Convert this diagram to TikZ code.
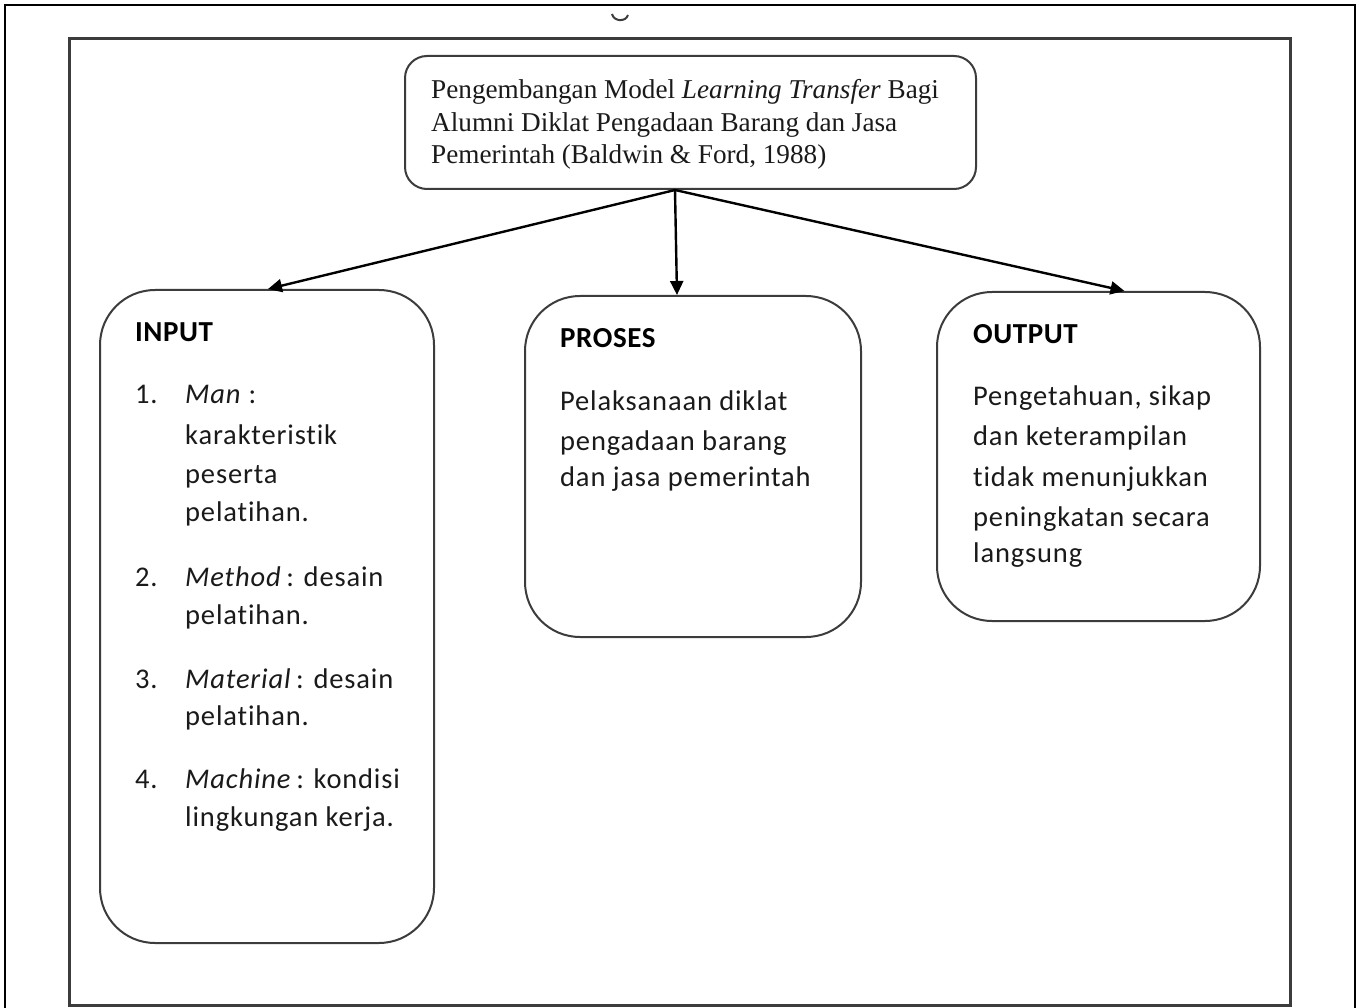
\documentclass[tikz,border=0pt]{standalone}
\usepackage{fontspec}
\setmainfont{Liberation Serif}
\newfontfamily\calib[Ligatures=NoCommon,LetterSpace=3]{Carlito}
\newfontfamily\calibhead[Ligatures=NoCommon,LetterSpace=2]{Carlito}
\usetikzlibrary{arrows.meta}
\definecolor{boxline}{HTML}{3C3C3C}
\definecolor{txt}{HTML}{1A1A1A}
\begin{document}
\begin{tikzpicture}[x=1pt,y=-1pt,
  frameline/.style={draw=black,line width=1.5pt},
  panel/.style={draw=boxline,line width=3pt},
  card/.style={draw=boxline,line width=2pt,rounded corners=55pt,inner sep=0pt},
  titlecard/.style={draw=boxline,line width=2pt,rounded corners=22pt,inner sep=0pt},
  link/.style={draw=black,line width=2.4pt,-{Triangle[length=14pt,width=13pt]}},
  serif/.style={anchor=base west,inner sep=0pt,font=\fontsize{27.2}{33}\selectfont,text=txt},
  body/.style={anchor=base west,inner sep=0pt,font=\calib\fontsize{28.5}{38}\selectfont,text=txt},
  head/.style={anchor=base west,inner sep=0pt,font=\calibhead\bfseries\fontsize{29}{38}\selectfont,text=black}]
\useasboundingbox (0,0) rectangle (1361,1008);
\fill[white] (0,0) rectangle (1361,1008);
% outer frame and panel
\draw[frameline] (5,1012) -- (5,5) -- (1355,5) -- (1355,1012);
\draw[panel] (69,39) rectangle (1290,1005);
% cut-off glyph at the top
\draw[line width=2pt,boxline] (612,14) .. controls (614,22) and (626,22) .. (628,15);
% boxes
\node[titlecard,minimum width=571pt,minimum height=133pt] (top) at (690.5,122.5) {};
\node[card,minimum width=334pt,minimum height=653pt] (input) at (267,616.5) {};
\node[card,minimum width=336pt,minimum height=341pt] (proses) at (693,466.5) {};
\node[card,minimum width=323pt,minimum height=329pt] (output) at (1098.5,456.5) {};
% title text
\node[serif] (t1) at (431,99) {Pengembangan Model \textit{Learning Transfer} Bagi};
\node[serif] (t2) at (431,132) {Alumni Diklat Pengadaan Barang dan Jasa};
\node[serif] (t3) at (431,164) {Pemerintah (Baldwin \& Ford, 1988)};
% input text
\node[head] (ih) at (135,342) {INPUT};
\node[body] (n1) at (135,404) {1.};
\node[body] (i1) at (185,404) {\textit{Man} :};
\node[body] (i2) at (185,445) {karakteristik};
\node[body] (i3) at (185,483) {peserta};
\node[body] (i4) at (185,521) {pelatihan.};
\node[body] (n2) at (135,586) {2.};
\node[body] (i5) at (185,586) {\textit{Method}\,: desain};
\node[body] (i6) at (185,624) {pelatihan.};
\node[body] (n3) at (135,688) {3.};
\node[body] (i7) at (185,688) {\textit{Material}\,: desain};
\node[body] (i8) at (185,725) {pelatihan.};
\node[body] (n4) at (135,788) {4.};
\node[body] (i9) at (185,788) {\textit{Machine}\,: kondisi};
\node[body] (i10) at (185,826) {lingkungan kerja.};
% proses text
\node[head] (ph) at (560,348) {PROSES};
\node[body] (p1) at (560,410) {Pelaksanaan diklat};
\node[body] (p2) at (560,450) {pengadaan barang};
\node[body] (p3) at (560,486) {dan jasa pemerintah};
% output text
\node[head] (oh) at (973,344) {OUTPUT};
\node[body] (o1) at (973,406) {Pengetahuan, sikap};
\node[body] (o2) at (973,446) {dan keterampilan};
\node[body] (o3) at (973,486) {tidak menunjukkan};
\node[body] (o4) at (973,526) {peningkatan secara};
\node[body] (o5) at (973,562) {langsung};
% connectors
\coordinate (src) at (675,190);
\draw[link] (src) -- ([xshift=1pt]input.north);
\draw[link] (src) -- ([xshift=-16pt]proses.north);
\draw[link] (src) -- ([xshift=26pt]output.north);
\end{tikzpicture}
\end{document}
